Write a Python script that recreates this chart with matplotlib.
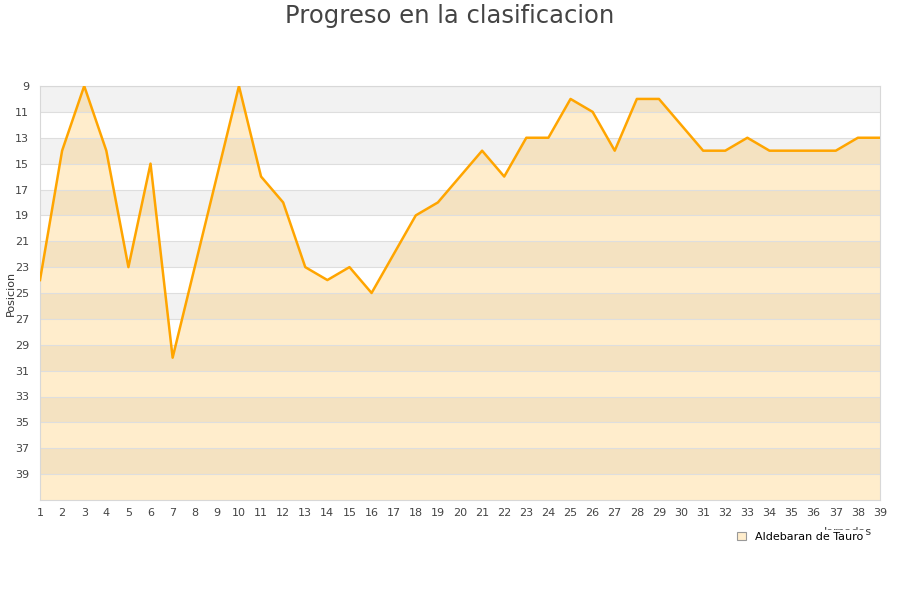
import matplotlib
matplotlib.use("Agg")
import matplotlib.pyplot as plt
from matplotlib.patches import Patch

jornadas = list(range(1, 40))
posiciones = [24, 14, 9, 14, 23, 15, 30, 23, 16, 9, 16, 18, 23, 24, 23, 25, 22, 19, 18, 16,
              14, 16, 13, 13, 10, 11, 14, 10, 10, 12, 14, 14, 13, 14, 14, 14, 14, 13, 13]
y_ticks = list(range(9, 40, 2))
titulo = "Progreso en la clasificacion"
serie = "Aldebaran de Tauro"

fig = plt.figure(figsize=(9, 6), dpi=100)
ax = fig.add_axes([40/900, 1 - 500/600, 840/900, 414/600])

y_min, y_max = 9, 41
# alternating bands
for k, y0 in enumerate(range(y_min, y_max, 2)):
    if k % 2 == 0:
        ax.axhspan(y0, y0 + 2, color="#f2f2f2", lw=0, zorder=0)

ax.fill_between(jornadas, posiciones, y_max, color="#ffa500", alpha=0.2, lw=0, zorder=1)
ax.plot(jornadas, posiciones, color="#ffa500", lw=1.8, zorder=3)

for y in y_ticks:
    ax.axhline(y, color="#dedede", lw=0.8, zorder=2)

ax.set_xlim(1, 39)
ax.set_ylim(y_max, y_min)
ax.set_yticks(y_ticks)
ax.set_xticks(jornadas)
ax.tick_params(axis="both", length=0, labelsize=8, colors="#444444")
ax.tick_params(axis="x", pad=6)
ax.tick_params(axis="y", pad=8)
for s in ["top", "right", "left", "bottom"]:
    ax.spines[s].set_color("#d8d8d8")
    ax.spines[s].set_linewidth(0.8)

ax.set_ylabel("Posicion", fontsize=8, color="#333333")
ax.yaxis.set_label_coords(-24/840, 0.5)
ax.set_xlabel("Jornadas", fontsize=8, color="#333333")
ax.xaxis.set_label_coords(0.99, -0.065)
ax.xaxis.label.set_ha("right")

fig.text(0.5, 1 - 16/600, titulo, ha="center", va="center", fontsize=17.5, color="#444444")

handle = Patch(facecolor="#ffedcc", edgecolor="#999999", lw=0.8)
leg = fig.legend([handle], [serie], loc="center", bbox_to_anchor=(800/900, 1 - 537/600),
                 frameon=True, fontsize=8, handlelength=0.8, handleheight=0.8,
                 handletextpad=0.8, borderpad=0.2)
leg.get_frame().set_edgecolor("white")
leg.get_frame().set_facecolor("white")
leg.get_frame().set_alpha(1)
leg.set_zorder(10)

fig.savefig("out.png", dpi=100)
